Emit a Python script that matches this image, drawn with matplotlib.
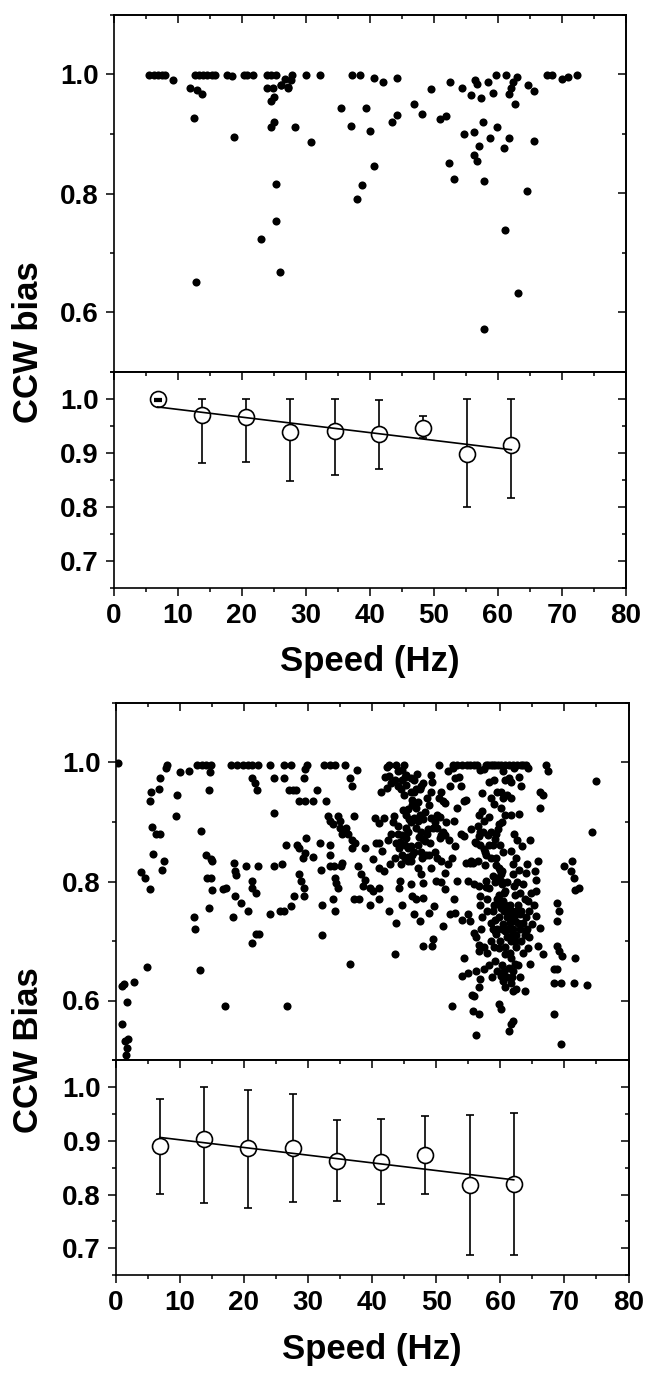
import numpy as np
import matplotlib
matplotlib.use("Agg")
import matplotlib.pyplot as plt
from matplotlib.ticker import MultipleLocator, NullFormatter

plt.rcParams["font.family"] = ["Liberation Sans", "DejaVu Sans"]
plt.rcParams["font.weight"] = "bold"

# ---- upper figure: scatter (speed in Hz, CCW bias) ----
p1_speed = [5.6, 6.3, 6.9, 7.6, 8.1, 9.3, 11.9, 12.7, 13.3, 14.0,
            14.6, 15.3, 15.9, 12.6, 13.1, 13.8, 12.8, 17.7, 18.5, 18.8,
            20.3, 20.9, 21.7, 24.0, 24.6, 25.4, 24.0, 24.9, 24.6, 25.0,
            24.6, 25.1, 25.3, 25.3, 23.1, 26.0, 26.2, 26.8, 27.3, 27.8,
            27.7, 28.3, 30.0, 30.8, 32.2, 35.5, 37.2, 38.5, 37.1, 39.4,
            38.0, 38.8, 40.0, 40.6, 40.7, 42.1, 44.2, 43.5, 44.2, 46.9,
            48.1, 49.6, 51.0, 51.9, 52.6, 52.4, 53.2, 54.4, 54.7, 55.8,
            56.4, 56.7, 57.4, 58.4, 56.3, 57.6, 56.3, 56.7, 57.1, 57.9,
            58.7, 59.3, 59.7, 59.9, 61.2, 60.9, 61.7, 61.1, 61.7, 62.1,
            62.4, 63.0, 62.6, 63.1, 57.9, 64.5, 64.7, 65.6, 65.6, 67.6,
            68.5, 70.0, 71.0, 72.3, 26.1, 27.2]
p1_bias = [1.0, 1.0, 1.0, 1.0, 1.0, 0.991, 0.977, 1.0, 1.0, 1.0,
           1.0, 1.0, 1.0, 0.927, 0.974, 0.967, 0.652, 1.0, 0.997, 0.895,
           1.0, 1.0, 1.0, 1.0, 1.0, 1.0, 0.978, 0.978, 0.955, 0.963,
           0.912, 0.920, 0.816, 0.753, 0.723, 0.668, 0.983, 0.993, 0.978, 1.0,
           0.991, 0.912, 1.0, 0.886, 1.0, 0.944, 1.0, 1.0, 0.913, 0.944,
           0.790, 0.814, 0.905, 0.994, 0.847, 0.987, 0.994, 0.921, 0.932, 0.950,
           0.934, 0.975, 0.926, 0.930, 0.987, 0.852, 0.824, 0.978, 0.900, 0.965,
           0.990, 0.984, 0.961, 0.987, 0.904, 0.920, 0.865, 0.854, 0.880, 0.821,
           0.894, 0.969, 1.0, 0.912, 1.0, 0.877, 0.894, 0.738, 0.968, 0.978,
           0.987, 0.996, 0.950, 0.632, 0.573, 0.804, 0.982, 0.973, 0.889, 1.0,
           1.0, 0.992, 0.996, 1.0, 0.983, 0.979]

# binned means with error-bar bounds (upper figure)
bin_speed = [6.9, 13.8, 20.7, 27.6, 34.5, 41.4, 48.3, 55.2, 62.1]
p1_mean = [1.0, 0.970, 0.966, 0.938, 0.941, 0.935, 0.947, 0.899, 0.915]
p1_lo = [0.996, 0.882, 0.884, 0.848, 0.859, 0.870, 0.928, 0.800, 0.816]
p1_hi = [1.0, 1.0, 1.0, 1.0, 1.0, 0.999, 0.969, 1.0, 1.0]

# ---- lower figure: scatter ----
p2_speed = [0.3, 1.0, 1.3, 1.7, 1.0, 1.5, 1.9, 1.7, 2.8, 4.9,
            4.0, 4.5, 5.3, 5.5, 5.4, 5.7, 6.3, 6.9, 5.8, 6.7,
            6.9, 7.2, 7.6, 7.9, 8.0, 9.5, 9.4, 10.0, 11.4, 12.7,
            13.4, 14.1, 14.8, 14.7, 14.5, 13.3, 12.2, 12.3, 13.2, 14.1,
            14.8, 15.1, 14.3, 14.9, 14.6, 15.1, 16.7, 17.2, 17.1, 18.3,
            18.5, 18.6, 18.8, 18.6, 18.0, 19.0, 19.9, 20.6, 21.2, 22.2,
            21.2, 21.7, 22.0, 20.6, 21.3, 21.3, 21.9, 20.4, 22.2, 21.2,
            21.9, 22.4, 19.6, 24.7, 24.7, 25.9, 24.1, 26.3, 27.3, 24.7,
            26.3, 24.1, 25.7, 26.2, 27.3, 26.5, 27.8, 26.8, 28.3, 28.6,
            28.6, 28.9, 29.4, 29.2, 29.6, 29.7, 29.4, 27.0, 27.6, 28.1,
            28.6, 29.6, 30.8, 29.4, 29.8, 29.6, 31.4, 30.8, 31.8, 32.1,
            32.2, 32.2, 32.8, 32.5, 33.4, 34.2, 35.7, 33.1, 33.4, 33.9,
            34.7, 35.0, 33.4, 33.5, 33.4, 34.1, 34.2, 34.4, 34.7, 33.9,
            34.2, 35.0, 35.3, 36.0, 36.3, 36.8, 37.3, 36.9, 35.3, 35.2,
            36.5, 36.9, 37.6, 37.1, 36.5, 37.1, 37.9, 37.8, 38.2, 38.9,
            38.9, 38.6, 39.7, 40.2, 39.7, 40.2, 40.5, 41.1, 41.8, 40.6,
            41.1, 41.1, 41.8, 41.1, 41.6, 41.0, 41.4, 42.3, 42.7, 42.4,
            42.7, 42.7, 43.7, 43.5, 43.4, 43.7, 44.0, 44.2, 44.7, 43.8,
            44.0, 44.7, 44.9, 45.3, 44.3, 44.2, 44.7, 45.3, 45.3, 45.3,
            45.6, 45.6, 46.0, 45.3, 46.0, 46.3, 46.6, 46.1, 46.3, 46.9,
            46.6, 46.9, 47.2, 47.6, 47.2, 47.6, 47.9, 47.4, 47.9, 47.9,
            48.5, 48.8, 48.2, 48.8, 49.2, 49.2, 49.5, 48.8, 49.5, 49.4,
            49.2, 49.4, 49.2, 49.6, 50.0, 50.1, 50.1, 50.6, 51.1, 51.3,
            50.4, 50.8, 51.1, 51.4, 51.0, 51.4, 51.9, 52.6, 52.1, 52.4,
            52.7, 52.7, 52.6, 53.3, 54.0, 54.8, 55.3, 53.0, 53.5, 53.3,
            54.3, 54.6, 53.3, 53.0, 54.0, 54.3, 54.6, 54.0, 54.9, 54.3,
            54.9, 55.3, 55.3, 55.8, 54.9, 55.6, 55.9, 55.8, 56.6, 56.2,
            55.9, 56.2, 56.6, 56.6, 56.2, 56.6, 56.9, 57.5, 55.9, 56.6,
            56.9, 56.9, 56.2, 56.6, 56.9, 56.6, 57.2, 57.5, 56.9, 57.5,
            57.7, 57.2, 57.5, 57.8, 58.2, 58.8, 58.2, 58.5, 58.8, 57.7,
            58.2, 58.8, 58.5, 59.1, 59.1, 59.4, 59.4, 59.8, 60.1, 60.4,
            59.4, 59.8, 60.1, 60.1, 59.8, 60.4, 60.1, 59.1, 59.8, 60.1,
            59.8, 60.1, 60.4, 60.7, 60.4, 60.7, 61.1, 61.4, 61.4, 60.7,
            61.4, 61.7, 61.4, 61.7, 62.0, 61.7, 62.0, 61.7, 62.0, 60.7,
            61.3, 62.0, 62.6, 63.2, 64.3, 60.4, 61.4, 61.7, 60.1, 61.1,
            61.6, 61.7, 62.9, 61.7, 62.0, 62.0, 62.3, 62.7, 63.0, 62.3,
            62.3, 62.0, 62.2, 63.6, 64.0, 64.3, 63.8, 64.0, 64.4, 64.9,
            64.3, 64.6, 65.4, 65.6, 65.6, 64.6, 65.6, 66.2, 65.9, 66.6,
            65.9, 66.2, 66.6, 66.2, 67.2, 67.5, 68.8, 69.1, 68.8, 68.8,
            69.1, 69.7, 68.4, 68.9, 68.4, 69.4, 68.4, 69.4, 69.9, 71.2,
            71.1, 71.5, 71.7, 72.3, 71.5, 71.7, 73.6, 74.3, 75.0, 1.6]
p2_bias = [1.0, 0.625, 0.627, 0.597, 0.561, 0.532, 0.535, 0.521, 0.631, 0.656,
           0.816, 0.806, 0.787, 0.950, 0.935, 0.891, 0.880, 0.880, 0.846, 0.956,
           0.974, 0.820, 0.835, 0.990, 0.996, 0.945, 0.910, 0.984, 0.985, 0.995,
           0.995, 0.995, 0.995, 0.984, 0.954, 0.885, 0.740, 0.721, 0.652, 0.845,
           0.837, 0.834, 0.806, 0.806, 0.756, 0.785, 0.787, 0.789, 0.591, 0.740,
           0.831, 0.817, 0.811, 0.775, 0.995, 0.995, 0.995, 0.995, 0.995, 0.995,
           0.974, 0.965, 0.954, 0.750, 0.801, 0.789, 0.781, 0.826, 0.826, 0.697,
           0.711, 0.711, 0.764, 0.915, 0.826, 0.830, 0.995, 0.995, 0.995, 0.974,
           0.974, 0.745, 0.750, 0.750, 0.759, 0.861, 0.775, 0.591, 0.862, 0.856,
           0.812, 0.801, 0.789, 0.840, 0.848, 0.873, 0.775, 0.954, 0.954, 0.954,
           0.935, 0.935, 0.935, 0.974, 0.995, 0.989, 0.954, 0.842, 0.865, 0.820,
           0.760, 0.710, 0.935, 0.995, 0.995, 0.995, 0.995, 0.910, 0.901, 0.896,
           0.910, 0.901, 0.862, 0.844, 0.826, 0.826, 0.806, 0.798, 0.789, 0.770,
           0.750, 0.890, 0.879, 0.890, 0.879, 0.870, 0.865, 0.856, 0.831, 0.826,
           0.974, 0.960, 0.988, 0.910, 0.661, 0.770, 0.770, 0.826, 0.812, 0.803,
           0.856, 0.792, 0.789, 0.784, 0.760, 0.837, 0.907, 0.898, 0.907, 0.865,
           0.865, 0.823, 0.817, 0.789, 0.851, 0.770, 0.951, 0.957, 0.977, 0.993,
           0.995, 0.750, 0.731, 0.678, 0.910, 0.865, 0.879, 0.856, 0.845, 0.996,
           0.985, 0.988, 0.995, 0.979, 0.801, 0.789, 0.761, 0.912, 0.890, 0.873,
           0.856, 0.842, 0.834, 0.963, 0.974, 0.937, 0.951, 0.795, 0.775, 0.770,
           0.745, 0.923, 0.901, 0.884, 0.823, 0.812, 0.798, 0.734, 0.773, 0.692,
           0.940, 0.929, 0.868, 0.845, 0.823, 0.906, 0.890, 0.747, 0.703, 0.692,
           0.951, 0.968, 0.979, 0.759, 0.801, 0.912, 0.890, 0.873, 0.884, 0.815,
           0.995, 0.951, 0.935, 0.932, 0.725, 0.787, 0.985, 0.991, 0.745, 0.591,
           0.901, 0.770, 0.995, 0.995, 0.995, 0.995, 0.995, 0.974, 0.976, 0.923,
           0.935, 0.937, 0.801, 0.747, 0.736, 0.876, 0.831, 0.641, 0.647, 0.672,
           0.745, 0.734, 0.831, 0.831, 0.801, 0.610, 0.608, 0.583, 0.577, 0.542,
           0.714, 0.706, 0.694, 0.683, 0.650, 0.622, 0.636, 0.653, 0.795, 0.792,
           0.775, 0.761, 0.865, 0.876, 0.884, 0.912, 0.918, 0.901, 0.988, 0.989,
           0.995, 0.949, 0.854, 0.845, 0.968, 0.995, 0.909, 0.884, 0.862, 0.801,
           0.789, 0.750, 0.700, 0.736, 0.717, 0.711, 0.879, 0.896, 0.923, 0.940,
           0.840, 0.823, 0.812, 0.801, 0.778, 0.767, 0.756, 0.666, 0.689, 0.641,
           0.594, 0.585, 0.633, 0.622, 0.728, 0.717, 0.706, 0.739, 0.750, 0.678,
           0.655, 0.672, 0.549, 0.560, 0.566, 0.630, 0.616, 0.700, 0.706, 0.995,
           0.995, 0.995, 0.995, 0.995, 0.991, 0.985, 0.974, 0.968, 0.951, 0.946,
           0.940, 0.912, 0.913, 0.851, 0.829, 0.812, 0.778, 0.761, 0.745, 0.734,
           0.661, 0.650, 0.792, 0.795, 0.815, 0.767, 0.616, 0.717, 0.706, 0.728,
           0.689, 0.870, 0.817, 0.803, 0.784, 0.661, 0.742, 0.722, 0.692, 0.678,
           0.834, 0.951, 0.946, 0.923, 0.995, 0.985, 0.764, 0.750, 0.733, 0.692,
           0.683, 0.675, 0.653, 0.653, 0.630, 0.630, 0.577, 0.527, 0.826, 0.834,
           0.817, 0.806, 0.785, 0.789, 0.630, 0.671, 0.626, 0.884, 0.969, 0.508]

# extra points read from the crowded regions of the lower scatter
p2_speed_dense = [44.0, 44.6, 45.1, 44.3, 45.6, 46.1, 45.1, 45.6, 46.3, 46.6,
                  47.2, 47.9, 48.7, 47.6, 48.4, 50.2, 50.7, 46.6, 47.4, 48.2,
                  45.6, 46.3, 47.1, 46.1, 46.9, 47.6, 44.0, 44.6, 45.1, 49.8,
                  50.8, 51.4, 50.6,
                  55.5, 56.5, 57.3, 58.1, 56.0, 56.8, 57.6, 58.3, 59.6, 60.2,
                  60.7, 59.1, 59.9, 60.4, 58.6, 59.4, 60.2, 55.5, 56.5, 57.6,
                  59.6, 60.2, 60.7,
                  59.5, 60.0, 60.5, 61.0, 61.5, 62.0, 62.5, 63.0, 63.5, 59.5,
                  60.0, 60.8, 61.5, 62.5, 63.2, 58.5, 59.0, 60.2, 61.0, 62.8,
                  63.5, 64.0, 64.5, 62.5, 61.5, 60.5, 59.2, 60.0, 58.0, 57.0,
                  57.5,
                  55.9, 56.3, 58.1, 58.6, 59.1, 59.6, 60.1, 63.6, 64.0, 42.0,
                  43.0, 43.5, 44.5, 45.0, 46.5, 47.0, 47.5, 48.0, 43.0, 43.5,
                  44.5, 45.8, 46.8, 47.3, 48.0, 48.5, 49.0, 49.8, 44.8, 43.2,
                  42.5, 42.8, 47.8, 46.0, 58.0, 58.8, 59.8, 60.3, 61.2, 61.8,
                  62.3, 62.8, 63.3, 59.0, 60.7, 61.8, 62.2, 63.8, 64.2, 59.5,
                  60.6, 61.8, 62.4, 63.0, 58.7, 58.0, 58.3, 57.2, 57.8, 58.8,
                  61.0, 62.6, 63.0, 63.8, 64.8, 65.2, 62.9, 62.5, 63.4, 64.2,
                  62.2, 62.6, 59.0, 59.5, 60.8, 62.2, 62.9, 63.3, 59.0, 58.5,
                  50.5, 51.5, 52.0, 52.5, 53.0, 53.8, 52.2, 53.8, 51.8, 50.8]
p2_bias_dense = [0.893, 0.878, 0.861, 0.867, 0.883, 0.900, 0.839, 0.834, 0.845, 0.850,
                 0.861, 0.872, 0.889, 0.850, 0.845, 0.839, 0.834, 0.906, 0.911, 0.917,
                 0.922, 0.928, 0.933, 0.950, 0.956, 0.961, 0.961, 0.970, 0.975, 0.900,
                 0.878, 0.878, 0.908,
                 0.889, 0.894, 0.883, 0.878, 0.867, 0.861, 0.850, 0.861, 0.889, 0.900,
                 0.911, 0.872, 0.861, 0.850, 0.839, 0.828, 0.817, 0.834, 0.834, 0.828,
                 0.806, 0.795, 0.784,
                 0.770, 0.760, 0.750, 0.740, 0.730, 0.720, 0.710, 0.720, 0.730, 0.720,
                 0.700, 0.690, 0.680, 0.690, 0.700, 0.730, 0.690, 0.660, 0.640, 0.660,
                 0.680, 0.740, 0.750, 0.750, 0.760, 0.780, 0.800, 0.820, 0.770, 0.720,
                 0.690,
                 0.995, 0.995, 0.995, 0.995, 0.995, 0.995, 0.995, 0.995, 0.995, 0.975,
                 0.965, 0.970, 0.955, 0.945, 0.970, 0.980, 0.955, 0.965, 0.880, 0.840,
                 0.830, 0.905, 0.890, 0.875, 0.905, 0.880, 0.865, 0.850, 0.920, 0.900,
                 0.870, 0.830, 0.840, 0.860, 0.750, 0.720, 0.740, 0.720, 0.720, 0.710,
                 0.700, 0.730, 0.750, 0.760, 0.760, 0.750, 0.740, 0.710, 0.720, 0.650,
                 0.650, 0.640, 0.620, 0.640, 0.640, 0.680, 0.660, 0.740, 0.790, 0.810,
                 0.800, 0.800, 0.780, 0.770, 0.780, 0.760, 0.820, 0.840, 0.860, 0.830,
                 0.880, 0.870, 0.970, 0.950, 0.970, 0.990, 0.975, 0.960, 0.930, 0.940,
                 0.940, 0.900, 0.870, 0.840, 0.860, 0.880, 0.960, 0.960, 0.830, 0.800]

p2_mean = [0.890, 0.904, 0.886, 0.886, 0.863, 0.861, 0.874, 0.818, 0.819]
p2_lo = [0.801, 0.785, 0.775, 0.787, 0.788, 0.783, 0.801, 0.688, 0.688]
p2_hi = [0.978, 1.0, 0.995, 0.986, 0.938, 0.940, 0.946, 0.947, 0.951]


def style_axis(ax, major_y, minor_y, show_xlabels):
    ax.set_xlim(0, 80)
    ax.xaxis.set_major_locator(MultipleLocator(10))
    ax.xaxis.set_minor_locator(MultipleLocator(5))
    ax.yaxis.set_major_locator(MultipleLocator(major_y))
    ax.yaxis.set_minor_locator(MultipleLocator(minor_y))
    ax.yaxis.set_major_formatter(plt.FormatStrFormatter("%.1f"))
    for sp in ax.spines.values():
        sp.set_linewidth(1.2)
    ax.tick_params(which="both", direction="out", width=1.1, labelsize=20, pad=5)
    ax.tick_params(which="major", length=5.5)
    ax.tick_params(which="minor", length=2.8)
    if not show_xlabels:
        ax.xaxis.set_major_formatter(NullFormatter())
    # inward ticks on top and right
    top = ax.secondary_xaxis("top")
    top.xaxis.set_major_locator(MultipleLocator(10))
    top.xaxis.set_minor_locator(MultipleLocator(5))
    top.xaxis.set_major_formatter(NullFormatter())
    right = ax.secondary_yaxis("right")
    right.yaxis.set_major_locator(MultipleLocator(major_y))
    right.yaxis.set_minor_locator(MultipleLocator(minor_y))
    right.yaxis.set_major_formatter(NullFormatter())
    for sec in (top, right):
        for sp in sec.spines.values():
            sp.set_linewidth(1.2)
        sec.tick_params(which="both", direction="in", width=1.1)
        sec.tick_params(which="major", length=5.5)
        sec.tick_params(which="minor", length=2.8)


def draw_means(ax, mean, lo, hi):
    mean = np.array(mean)
    lo = np.array(lo)
    hi = np.array(hi)
    x = np.array(bin_speed)
    yerr = np.vstack([mean - lo, hi - mean])
    ax.errorbar(x, mean, yerr=yerr, fmt="none", ecolor="black",
                elinewidth=1.2, capsize=3, capthick=1.2, zorder=2)
    ax.plot(x, mean, "o", ms=11.5, mfc="white", mec="black", mew=1.2, zorder=3)
    # tiny error bars stay visible on top of the open circle
    small = (hi - lo) < 0.02
    if small.any():
        ax.errorbar(x[small], mean[small], yerr=yerr[:, small], fmt="none",
                    ecolor="black", elinewidth=1.2, capsize=3, capthick=1.6,
                    zorder=5)
    slope, icpt = np.polyfit(x, mean, 1)
    xf = np.array([x[0], x[-1]])
    ax.plot(xf, slope * xf + icpt, color="black", lw=1.2, zorder=4)
    ax.set_ylim(0.65, 1.05)


fig = plt.figure(figsize=(6.46, 13.73), dpi=100)
W, H = 646.0, 1373.0


def add_ax(x0, x1, y0, y1):
    return fig.add_axes([x0 / W, 1 - y1 / H, (x1 - x0) / W, (y1 - y0) / H])


# upper figure
ax1 = add_ax(113.5, 626, 15, 372)
ax1.scatter(p1_speed, p1_bias, s=34, color="black", linewidths=0, zorder=3)
ax1.set_ylim(0.5, 1.1)
style_axis(ax1, 0.2, 0.1, False)

ax2 = add_ax(113.5, 626, 372, 588)
draw_means(ax2, p1_mean, p1_lo, p1_hi)
style_axis(ax2, 0.1, 0.05, True)
ax2.set_xlabel("Speed (Hz)", fontsize=25, fontweight="bold", labelpad=12)
fig.text(29 / W, 1 - 423 / H, "CCW bias", rotation=90, ha="center",
         va="bottom", fontsize=25, fontweight="bold")

# lower figure
ax3 = add_ax(115.7, 628.5, 703, 1060)
ax3.scatter(p2_speed + p2_speed_dense, p2_bias + p2_bias_dense, s=34,
            color="black", linewidths=0, zorder=3)
ax3.set_ylim(0.5, 1.1)
style_axis(ax3, 0.2, 0.1, False)

ax4 = add_ax(115.7, 628.5, 1060, 1275.3)
draw_means(ax4, p2_mean, p2_lo, p2_hi)
style_axis(ax4, 0.1, 0.05, True)
ax4.set_xlabel("Speed (Hz)", fontsize=25, fontweight="bold", labelpad=12)
fig.text(29 / W, 1 - 1133 / H, "CCW Bias", rotation=90, ha="center",
         va="bottom", fontsize=25, fontweight="bold")

fig.savefig("out.png", dpi=100)
